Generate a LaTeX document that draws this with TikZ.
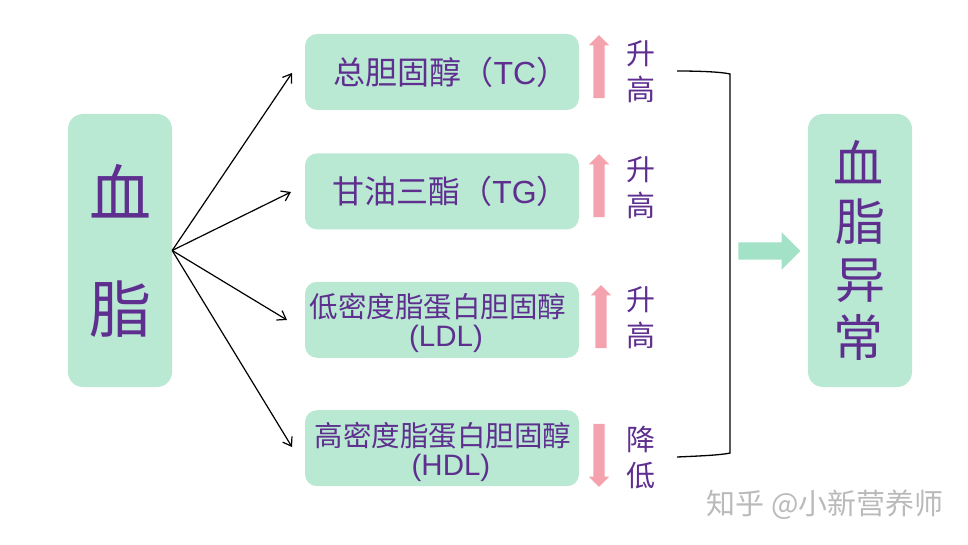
\documentclass[tikz,border=0pt]{standalone}
\usepackage{fontspec}
\setmainfont{Liberation Sans}
\newfontfamily\cjk{Noto Sans CJK SC}
\usetikzlibrary{positioning,shapes.arrows,arrows.meta}
\definecolor{mint}{HTML}{B9E8D3}
\definecolor{mintarrow}{HTML}{A3E2C6}
\definecolor{rosepink}{HTML}{F4A3AE}
\definecolor{grape}{HTML}{5E2F8F}
\tikzset{
    bigbox/.style={fill=mint,rounded corners=15pt,minimum width=104pt,minimum height=273pt,inner sep=0pt,align=center,text=grape},
    lipid/.style={fill=mint,rounded corners=12pt,minimum width=274pt,minimum height=76pt,inner sep=0pt,align=center,text=grape},
    updown/.style={text=grape,align=center,font=\cjk\fontsize{29}{36}\selectfont},
    pinkarrow/.style={single arrow,fill=rosepink,minimum height=63pt,minimum width=20pt,single arrow head extend=4.5pt,inner xsep=5.5pt,inner ysep=0pt},
    branch/.style={-{Straight Barb[length=8pt,width=11pt]},line width=1.2pt},
}
\begin{document}
\begin{tikzpicture}[x=1pt,y=-1pt]
    \useasboundingbox (0,0) rectangle (968,545);
    \node[bigbox,font=\cjk\fontsize{62}{116}\selectfont] (lipids) at (120,250.5) {血\\脂};

    \node[lipid,font=\fontsize{32}{36}\selectfont] (tc) at (442,72) {\hspace*{18pt}{\cjk 总胆固醇（}TC{\cjk ）}};
    \node[lipid,font=\fontsize{32}{36}\selectfont] (tg) [below=43pt of tc] {\hspace*{17pt}{\cjk 甘油三酯（}TG{\cjk ）}};
    \node[lipid,font=\fontsize{28.5}{29}\selectfont] (ldl) [below=52pt of tg] {\rule{0pt}{31.5pt}{\cjk 低密度脂蛋白胆固醇}\hspace*{8pt}\\\hspace*{8pt}\fontsize{29.5}{29}\selectfont(LDL)};
    \node[lipid,font=\fontsize{28.5}{29}\selectfont] (hdl) [below=52pt of ldl] {\rule{0pt}{31.5pt}\hspace*{2pt}{\cjk 高密度脂蛋白胆固醇}\\\hspace*{18pt}\fontsize{29.5}{29}\selectfont(HDL)};

    \node[pinkarrow,shape border rotate=90] (tcarrow) at (599,69.5) {};
    \node[pinkarrow,shape border rotate=90] (tgarrow) at (599,188.5) {};
    \node[pinkarrow,shape border rotate=90] (ldlarrow) at (601,319.5) {};
    \node[pinkarrow,shape border rotate=270] (hdlarrow) at (599,452.5) {};

    \node[updown] (tcword) at (641,71.5) {升\\高};
    \node[updown] (tgword) at (641,187.5) {升\\高};
    \node[updown] (ldlword) at (641,318) {升\\高};
    \node[updown] (hdlword) at (641,458) {降\\低};

    \node[bigbox,font=\cjk\fontsize{50}{58}\selectfont] (abnormal) at (860,250.5) {血\hspace*{4pt}\\脂\hspace*{4pt}\\异\hspace*{4pt}\\常\hspace*{4pt}};
    \node[single arrow,fill=mintarrow,minimum height=62pt,minimum width=37pt,single arrow head extend=10pt,inner xsep=0pt,inner ysep=8.5pt] (result) at (765,251) {};

    \node[text=black!27,font=\cjk\fontsize{29}{32}\selectfont] (mark) at (825,505) {知乎 @小新营养师};

    \coordinate (tcend) at (292,73);
    \coordinate (tgend) at (291,192);
    \coordinate (ldlend) at (287,320);
    \coordinate (hdlend) at (292,447);
    \draw[branch] (lipids.east) -- (tcend);
    \draw[branch] (lipids.east) -- (tgend);
    \draw[branch] (lipids.east) -- (ldlend);
    \draw[branch] (lipids.east) -- (hdlend);

    \coordinate (brackettop) at (677,71);
    \coordinate (bracketbottom) at (677,457);
    \draw[line width=1.3pt] (brackettop) .. controls (700,71) and (722,72) .. (730,74) -- (730,453) .. controls (722,455) and (700,456) .. (bracketbottom);
\end{tikzpicture}
\end{document}
